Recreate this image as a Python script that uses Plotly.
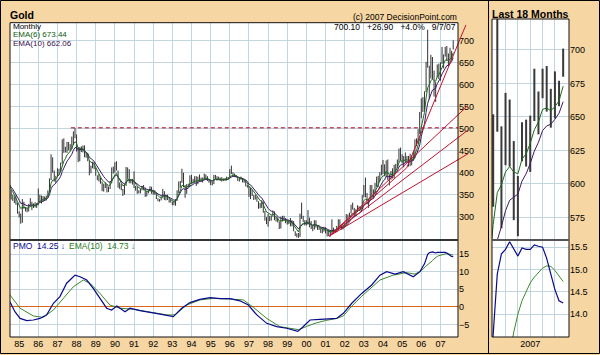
import plotly.graph_objects as go

W, H = 600, 355
FONT = "Liberation Sans, Arial, Helvetica, sans-serif"

# ---------------- data (monthly gold, Jan 1984 .. Sep 2007) ----------------
start_year = 1984
highs = [
    380, 410, 406, 395, 385, 392, 375, 361, 350, 346, 349, 332,   # 1984
    312, 307, 340, 334, 322, 320, 329, 342, 334, 330, 333, 331,   # 1985
    364, 350, 348, 347, 346, 348, 360, 387, 442, 435, 405, 393,   # 1986
    410, 409, 423, 476, 478, 459, 470, 470, 465, 482, 494, 502,   # 1987
    487, 458, 458, 460, 462, 462, 445, 444, 428, 416, 425, 425,   # 1988
    412, 394, 397, 389, 380, 375, 378, 374, 368, 380, 412, 414,   # 1989
    424, 426, 405, 378, 374, 363, 374, 413, 412, 408, 385, 386,   # 1990
    403, 370, 369, 360, 363, 370, 372, 366, 358, 361, 369, 368,   # 1991
    361, 360, 354, 342, 340, 345, 363, 358, 350, 350, 340, 338,   # 1992
    334, 334, 340, 360, 380, 381, 409, 400, 372, 374, 375, 394,   # 1993
    395, 386, 392, 392, 391, 396, 389, 389, 398, 396, 392, 385,   # 1994
    384, 380, 395, 395, 392, 391, 389, 390, 387, 388, 391, 390,   # 1995
    408, 416, 401, 398, 395, 392, 388, 391, 388, 384, 384, 372,   # 1996
    369, 365, 362, 349, 350, 346, 335, 331, 337, 334, 313, 299,   # 1997
    306, 302, 303, 314, 312, 300, 298, 289, 300, 302, 302, 297,   # 1998
    292, 292, 297, 292, 290, 267, 262, 263, 307, 332, 302, 292,   # 1999
    292, 315, 298, 290, 281, 292, 292, 281, 278, 275, 272, 277,   # 2000
    276, 270, 271, 266, 294, 275, 272, 279, 294, 294, 280, 282,   # 2001
    285, 306, 305, 309, 327, 332, 320, 317, 326, 324, 322, 349,   # 2002
    372, 389, 354, 341, 372, 372, 362, 377, 391, 393, 401, 418,   # 2003
    429, 419, 428, 430, 396, 404, 410, 418, 420, 430, 455, 457,   # 2004
    442, 438, 446, 438, 438, 443, 439, 448, 476, 478, 499, 538,   # 2005
    569, 572, 585, 652, 725, 643, 668, 663, 632, 606, 646, 648,   # 2006
    651, 686, 669, 686, 688, 671, 684, 677, 701,                  # 2007
]
lows = [
    364, 368, 386, 372, 370, 370, 340, 339, 336, 331, 327, 307,
    298, 284, 286, 318, 312, 310, 312, 326, 315, 320, 321, 320,
    326, 333, 330, 334, 336, 337, 344, 355, 383, 400, 380, 377,
    390, 395, 402, 420, 445, 446, 445, 451, 449, 454, 463, 478,
    448, 424, 426, 447, 446, 435, 434, 426, 394, 399, 410, 408,
    393, 383, 380, 375, 358, 357, 365, 355, 356, 363, 376, 398,
    400, 405, 366, 363, 360, 347, 350, 370, 386, 376, 376, 373,
    365, 359, 352, 353, 353, 360, 360, 345, 346, 353, 357, 352,
    350, 350, 340, 335, 334, 337, 342, 338, 337, 338, 332, 332,
    326, 326, 325, 336, 354, 366, 377, 367, 343, 352, 367, 368,
    375, 375, 377, 370, 374, 381, 379, 378, 384, 385, 381, 377,
    372, 371, 374, 386, 382, 383, 381, 380, 381, 381, 382, 384,
    387, 397, 393, 390, 389, 381, 380, 384, 378, 377, 369, 366,
    345, 340, 347, 338, 339, 334, 318, 319, 320, 309, 291, 283,
    277, 290, 291, 300, 292, 289, 287, 272, 273, 289, 292, 285,
    282, 283, 278, 278, 267, 256, 253, 252, 254, 295, 288, 280,
    280, 282, 276, 272, 267, 271, 275, 270, 270, 263, 262, 266,
    262, 255, 256, 255, 263, 265, 264, 265, 270, 277, 271, 271,
    276, 282, 289, 299, 307, 316, 301, 302, 311, 313, 315, 317,
    344, 344, 328, 320, 336, 343, 341, 352, 368, 367, 381, 394,
    397, 392, 390, 383, 371, 384, 387, 387, 400, 411, 423, 427,
    421, 412, 423, 423, 414, 415, 417, 428, 433, 460, 465, 488,
    524, 538, 540, 583, 639, 567, 614, 613, 573, 561, 617, 613,
    609, 647, 637, 664, 654, 642, 649, 658, 680,
]
closes = [
    370, 394, 394, 377, 384, 373, 342, 348, 343, 333, 329, 309,
    306, 299, 330, 321, 317, 317, 327, 333, 326, 325, 325, 327,
    350, 338, 344, 345, 343, 346, 357, 385, 423, 401, 383, 391,
    405, 405, 421, 451, 451, 447, 462, 453, 460, 468, 492, 484,
    458, 426, 457, 450, 455, 436, 437, 427, 397, 412, 422, 410,
    394, 387, 383, 377, 361, 373, 368, 359, 366, 376, 408, 401,
    415, 407, 368, 368, 363, 352, 372, 387, 408, 380, 384, 386,
    366, 363, 355, 357, 361, 368, 362, 347, 354, 358, 366, 353,
    354, 353, 341, 337, 337, 343, 357, 340, 349, 339, 334, 333,
    330, 327, 337, 355, 378, 378, 401, 372, 355, 370, 371, 391,
    378, 382, 391, 376, 388, 386, 384, 385, 395, 389, 383, 383,
    375, 376, 392, 390, 385, 387, 383, 382, 384, 383, 387, 387,
    405, 400, 396, 393, 391, 382, 385, 387, 379, 379, 371, 369,
    346, 364, 349, 340, 345, 334, 326, 325, 332, 311, 296, 290,
    304, 297, 301, 310, 293, 296, 288, 273, 293, 292, 294, 288,
    287, 288, 279, 286, 268, 262, 255, 255, 299, 299, 292, 290,
    283, 293, 278, 275, 273, 288, 277, 278, 273, 264, 270, 273,
    265, 267, 258, 264, 267, 271, 266, 273, 293, 279, 275, 277,
    282, 297, 302, 308, 326, 318, 305, 313, 324, 317, 319, 347,
    367, 347, 334, 336, 364, 346, 354, 375, 388, 386, 398, 416,
    400, 397, 427, 388, 394, 395, 391, 407, 416, 429, 453, 438,
    422, 435, 428, 435, 417, 437, 429, 433, 473, 470, 495, 513,
    569, 556, 583, 652, 653, 614, 633, 623, 599, 604, 646, 632,
    650, 666, 661, 679, 659, 650, 665, 673.2, 700.1,
]

# PMO (price momentum oscillator)
pmo_dates = [1984.52, 1984.78, 1985.05, 1985.40, 1985.74, 1986.09, 1986.44, 1986.79,
             1987.13, 1987.48, 1987.75, 1987.92, 1988.18, 1988.53, 1988.87, 1989.22,
             1989.57, 1989.83, 1990.10, 1990.53, 1990.79, 1991.31, 1991.83, 1992.36,
             1993.05, 1993.49, 1993.92, 1994.44, 1994.97, 1995.49, 1996.01, 1996.53,
             1996.97, 1997.41, 1997.93, 1998.45, 1998.97, 1999.55, 1999.80, 2000.19,
             2000.71, 2001.23, 2001.58, 2001.93, 2002.37, 2002.89, 2003.41, 2003.84,
             2004.19, 2004.63, 2005.06, 2005.58, 2005.93, 2006.167,
             2006.25, 2006.333, 2006.417, 2006.5, 2006.583, 2006.667, 2006.75, 2006.833,
             2006.917, 2007.0, 2007.083, 2007.167, 2007.25, 2007.333, 2007.417, 2007.5,
             2007.583, 2007.667]
pmo_vals = [1.45, -1.4, -3.3, -3.9, -3.75, -3.3, -2.3, 1.0,
            2.9, 6.7, 8.1, 9.0, 8.55, 7.6, 5.25, 2.4,
            -0.4, -0.9, 0.2, -1.4, -0.4, -1.1, -1.7, -2.1,
            -2.8, -0.4, 1.2, 2.1, 2.6, 2.3, 2.3, 1.7,
            0.5, -2.3, -4.7, -5.65, -6.1, -7.0, -5.8, -3.75,
            -3.55, -3.3, -3.3, -1.85, 1.0, 3.8, 6.2, 9.0,
            10.0, 9.3, 10.0, 8.55, 10.0, 12.2,
            13.55, 14.9, 15.35, 15.45, 15.62, 15.45, 15.3, 15.48,
            15.45, 15.45, 15.55, 15.52, 15.5, 15.25, 14.9, 14.55,
            14.3, 14.25]
pmo_ema_dates = [1984.52, 1985.05, 1985.74, 1986.26, 1986.79, 1987.31, 1987.83, 1988.35,
                 1988.70, 1989.22, 1989.74, 1990.27, 1990.96, 1991.83, 1992.71, 1993.14,
                 1993.75, 1994.44, 1995.14, 1996.01, 1996.71, 1997.23, 1997.93, 1998.62,
                 1999.14, 1999.60, 2000.00, 2000.50, 2001.00, 2001.58, 2001.93, 2002.37,
                 2002.89, 2003.40, 2003.84, 2004.53, 2005.23, 2005.66, 2006.0, 2006.25,
                 2006.5, 2006.583, 2006.667, 2006.75, 2006.833, 2006.917, 2007.0, 2007.083,
                 2007.167, 2007.25, 2007.333, 2007.417, 2007.5, 2007.583, 2007.667]
pmo_ema_vals = [3.35, -0.4, -2.6, -3.0, -0.9, 2.4, 5.7, 7.6,
                6.7, 3.8, 0.5, -0.4, -0.7, -1.5, -2.3, -2.3,
                0.5, 1.95, 2.4, 2.2, 1.95, -0.15, -3.3, -5.65,
                -6.1, -6.5, -5.6, -4.6, -3.9, -3.3, -2.6, 0.2,
                3.0, 5.6, 7.6, 9.0, 9.7, 9.3, 10.2, 11.6,
                12.6, 13.1, 13.6, 14.0, 14.3, 14.52, 14.7, 14.83,
                14.94, 15.03, 15.08, 15.07, 14.98, 14.85, 14.73]

# trend lines drawn on the price panel
resistance_dates = [1987.7, 2007.92]
resistance_vals = [502, 502]
fan_dates = [[2001.2, 2008.44], [2001.2, 2008.44], [2001.2, 2008.44]]
fan_vals = [[256, 553], [256, 497], [256, 443]]
curve_dates = [2001.2, 2005.24, 2008.33]
curve_vals = [256, 411, 736]

# axis ticks
year_ticks = list(range(1985, 2008))
year_labels = ["%02d" % (y % 100) for y in year_ticks]
price_ticks = [300, 350, 400, 450, 500, 550, 600, 650, 700]
pmo_ticks = [-5, 0, 5, 10, 15]
zoom_price_ticks = [575, 600, 625, 650, 675, 700]
zoom_pmo_ticks = [14.0, 14.5, 15.0, 15.5]
zoom_grid_dates = [2006.5, 2006.75, 2007.0, 2007.25, 2007.5]
zoom_grid_labels = ["", "", "2007", "", ""]

# ---------------- derived series ----------------
dates = [start_year + i / 12 for i in range(len(closes))]


def ema(vals, period):
    k = 2 / (period + 1)
    out = [vals[0]]
    for v in vals[1:]:
        out.append(out[-1] + k * (v - out[-1]))
    return out


ema6 = ema(closes, 6)
ema10 = ema(closes, 10)

bar_x, bar_y = [], []
for d, hi, lo in zip(dates, highs, lows):
    bar_x += [d, d, None]
    bar_y += [lo, hi, None]


# ---------------- geometry helpers ----------------
def px(x):
    return x / W


def py(y):
    return 1 - y / H


MAIN_L, MAIN_R = 10, 458
MAIN_TOP, SPLIT, BOTTOM = 22.7, 240, 337
ZOOM_L, ZOOM_R, ZOOM_TOP = 492, 569, 19
FAN_R = 470

main_xrange = [1984.523, 2007.917]
fan_xrange = [main_xrange[0],
              main_xrange[0] + (FAN_R - MAIN_L) / (MAIN_R - MAIN_L) * (main_xrange[1] - main_xrange[0])]
main_yrange = [247, 741]
pmo_yrange = [-8.58, 18.98]
zoom_xrange = [2006.226, 2007.785]
zoom_yrange = [558.2, 723.1]
zoom_pmo_yrange = [13.49, 15.66]

GRID = "#C3D6E0"
GREEN = "#1A6B1A"
PURPLE = "#3E1A66"
NAVY = "#0A0A8C"
PMO_GREEN = "#3C8A2E"
BAR = "#333333"
RED = "#C4122F"

fig = go.Figure()

# main price panel
fig.add_trace(go.Scatter(x=bar_x, y=bar_y, mode="lines", line=dict(color=BAR, width=1),
                         xaxis="x", yaxis="y", hoverinfo="skip"))
fig.add_trace(go.Scatter(x=dates, y=ema10, mode="lines", line=dict(color=PURPLE, width=1),
                         xaxis="x", yaxis="y"))
fig.add_trace(go.Scatter(x=dates, y=ema6, mode="lines", line=dict(color=GREEN, width=1),
                         xaxis="x", yaxis="y"))
fig.add_trace(go.Scatter(x=resistance_dates, y=resistance_vals, mode="lines",
                         line=dict(color="#A3001E", width=1, dash="4px,3px"),
                         xaxis="x", yaxis="y"))

# main PMO panel
fig.add_trace(go.Scatter(x=pmo_ema_dates, y=pmo_ema_vals, mode="lines",
                         line=dict(color=PMO_GREEN, width=1), xaxis="x2", yaxis="y2"))
fig.add_trace(go.Scatter(x=pmo_dates, y=pmo_vals, mode="lines",
                         line=dict(color=NAVY, width=1.2), xaxis="x2", yaxis="y2"))

# last 18 months
fig.add_trace(go.Scatter(x=bar_x, y=bar_y, mode="lines", line=dict(color="#3A3A3A", width=2),
                         xaxis="x3", yaxis="y3"))
fig.add_trace(go.Scatter(x=dates, y=ema10, mode="lines", line=dict(color=PURPLE, width=1),
                         xaxis="x3", yaxis="y3"))
fig.add_trace(go.Scatter(x=dates, y=ema6, mode="lines", line=dict(color=GREEN, width=1),
                         xaxis="x3", yaxis="y3"))
fig.add_trace(go.Scatter(x=pmo_ema_dates, y=pmo_ema_vals, mode="lines",
                         line=dict(color=PMO_GREEN, width=1), xaxis="x4", yaxis="y4"))
fig.add_trace(go.Scatter(x=pmo_dates, y=pmo_vals, mode="lines",
                         line=dict(color=NAVY, width=1.2), xaxis="x4", yaxis="y4"))

# fan lines (drawn on an overlay axis that reaches a little past the frame)
for fd, fv in zip(fan_dates, fan_vals):
    fig.add_trace(go.Scatter(x=fd, y=fv, mode="lines", line=dict(color=RED, width=1),
                             xaxis="x5", yaxis="y5"))
fig.add_trace(go.Scatter(x=curve_dates, y=curve_vals, mode="lines",
                         line=dict(color=RED, width=1), xaxis="x5", yaxis="y5"))

tickfont = dict(family=FONT, size=9, color="#000000")
common = dict(showline=False, zeroline=False, ticks="", fixedrange=True,
              gridcolor=GRID, gridwidth=1, tickfont=tickfont)

layout_axes = dict(
    xaxis=dict(domain=[px(MAIN_L), px(MAIN_R)], range=main_xrange, anchor="y",
               tickvals=year_ticks, showticklabels=False, showgrid=True, **common),
    yaxis=dict(domain=[py(SPLIT), py(MAIN_TOP)], range=main_yrange, anchor="x", side="right",
               tickvals=price_ticks, showgrid=True, **common),
    xaxis2=dict(domain=[px(MAIN_L), px(MAIN_R)], range=main_xrange, anchor="y2",
                tickvals=year_ticks, ticktext=year_labels, showgrid=True, **common),
    yaxis2=dict(domain=[py(BOTTOM), py(SPLIT)], range=pmo_yrange, anchor="x2", side="right",
                tickvals=pmo_ticks, showgrid=True, **common),
    xaxis3=dict(domain=[px(ZOOM_L), px(ZOOM_R)], range=zoom_xrange, anchor="y3",
                tickvals=zoom_grid_dates, showticklabels=False, showgrid=True, **common),
    yaxis3=dict(domain=[py(SPLIT), py(ZOOM_TOP)], range=zoom_yrange, anchor="x3", side="right",
                tickvals=zoom_price_ticks, showgrid=True, **common),
    xaxis4=dict(domain=[px(ZOOM_L), px(ZOOM_R)], range=zoom_xrange, anchor="y4",
                tickvals=zoom_grid_dates, ticktext=zoom_grid_labels, showgrid=True, **common),
    yaxis4=dict(domain=[py(BOTTOM), py(SPLIT)], range=zoom_pmo_yrange, anchor="x4", side="right",
                tickvals=zoom_pmo_ticks, tickformat=".1f", showgrid=True, **common),
    xaxis5=dict(domain=[px(MAIN_L), px(FAN_R)], range=fan_xrange, anchor="y5", visible=False,
                fixedrange=True),
    yaxis5=dict(domain=[py(SPLIT), py(MAIN_TOP)], range=main_yrange, anchor="x5", visible=False,
                fixedrange=True),
)
layout_axes["yaxis2"].update(zeroline=True, zerolinecolor="#D9661A", zerolinewidth=1.3)


def prect(x0, y0, x1, y1, **kw):
    return dict(type="rect", xref="paper", yref="paper",
                x0=px(x0), x1=px(x1), y0=py(y1), y1=py(y0), **kw)


def pline(x0, y0, x1, y1, **kw):
    return dict(type="line", xref="paper", yref="paper",
                x0=px(x0), x1=px(x1), y0=py(y0), y1=py(y1), **kw)


shapes = [
    prect(MAIN_L, MAIN_TOP, MAIN_R, BOTTOM, fillcolor="white", line=dict(width=0), layer="below"),
    prect(ZOOM_L, ZOOM_TOP, ZOOM_R, BOTTOM, fillcolor="white", line=dict(width=0), layer="below"),
    prect(MAIN_L, MAIN_TOP, MAIN_R, BOTTOM, line=dict(color="#111", width=1)),
    prect(ZOOM_L, ZOOM_TOP, ZOOM_R, BOTTOM, line=dict(color="#111", width=1)),
    pline(MAIN_L, SPLIT, MAIN_R, SPLIT, line=dict(color="#333", width=2)),
    pline(ZOOM_L, SPLIT, ZOOM_R, SPLIT, line=dict(color="#555", width=2)),
    pline(488.5, 0, 488.5, 353.5, line=dict(color="#000", width=1)),
    prect(0.5, 0.5, 599.5, 353.5, line=dict(color="#000", width=1)),
]


def note(x, y, text, color="#000", size=8.5, anchor="left", bold=False):
    if bold:
        text = "<b>" + text + "</b>"
    return dict(xref="paper", yref="paper", x=px(x), y=py(y), text=text, showarrow=False,
                xanchor=anchor, yanchor="middle", align=anchor, borderpad=0,
                font=dict(family=FONT, size=size, color=color))


NB = "\u00a0"
annotations = [
    note(9, 15.3, "Gold", size=10.5, bold=True),
    note(491, 14.2, "Last 18 Months", size=10.5, bold=True),
    note(457.5, 17.3, "(c) 2007 DecisionPoint.com", size=8.5, anchor="right"),
    note(456.5, 26.7, "700.10" + NB * 3 + "+26.90" + NB * 3 + "+4.0%" + NB * 3 + "9/7/07",
         size=8.5, anchor="right"),
    note(11.5, 26.0, "Monthly", size=8, color="#000"),
    note(11.5, 34.8, "EMA(6) 673.44", size=8, color="#0E5A0E"),
    note(11.5, 43.8, "EMA(10) 662.06", size=8, color="#3A1050"),
    note(11.5, 246.3, "PMO" + NB * 2 + "14.25" + NB + "↓", size=8.5, color=NAVY),
    note(67.5, 246.3, "EMA(10)" + NB * 2 + "14.73" + NB + "↓", size=8.5, color="#2A7A20"),
]

fig.update_layout(
    width=W, height=H, margin=dict(l=0, r=0, t=0, b=0, pad=0),
    paper_bgcolor="#F6D6A2", plot_bgcolor="rgba(0,0,0,0)",
    showlegend=False, shapes=shapes, annotations=annotations,
    font=dict(family=FONT, size=9, color="#000"),
    **layout_axes,
)

fig.write_html("out.html", config={"displayModeBar": False, "staticPlot": True})
